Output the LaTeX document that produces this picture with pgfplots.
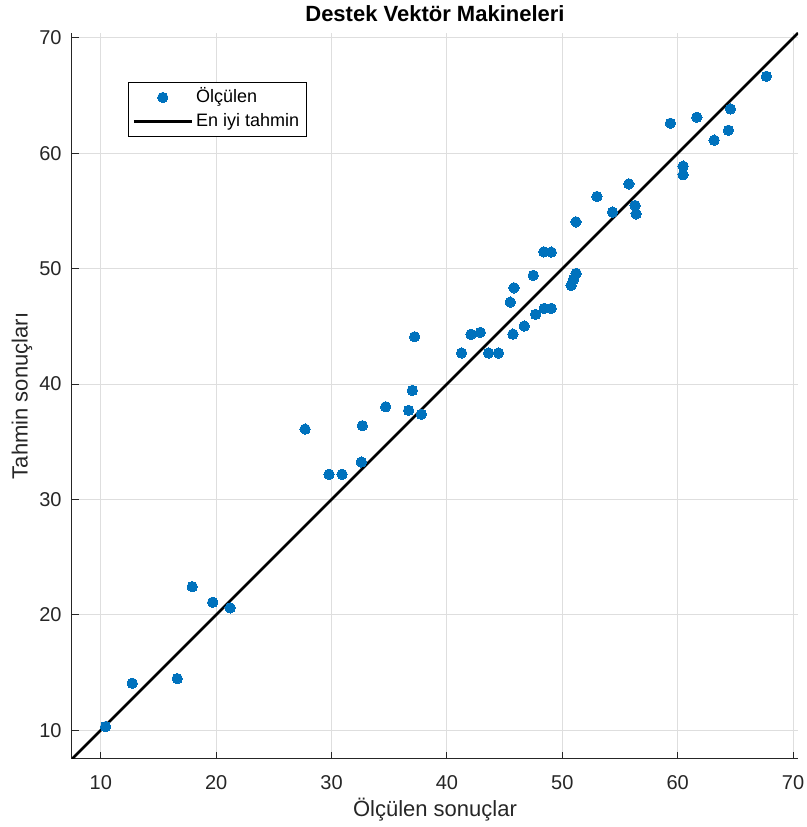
\documentclass[border=0pt]{standalone}
\usepackage{fontspec}
\setmainfont{Liberation Sans}
\usepackage{pgfplots}
\pgfplotsset{compat=1.18}
\definecolor{mblue}{HTML}{0072BD}
\definecolor{axgray}{rgb}{0.15,0.15,0.15}
\definecolor{gridgray}{rgb}{0.87,0.87,0.87}
\begin{document}
\begin{tikzpicture}
\begin{axis}[
  scale only axis, width=363pt, height=363pt,
  xmin=7.5, xmax=70.43, ymin=7.5, ymax=70.43,
  xtick={10,20,...,70}, ytick={10,20,...,70},
  axis x line=bottom, axis y line=left,
  every non boxed x axis/.append style={x axis line style=-},
  every non boxed y axis/.append style={y axis line style=-},
  every outer x axis line/.append style={-},
  every outer y axis line/.append style={-},
  every inner x axis line/.append style={-},
  every inner y axis line/.append style={-},
  axis line style={-, draw=axgray, line width=0.5pt},
  x axis line style={-}, y axis line style={-},
  tick align=inside, major tick length=3.6pt,
  tick style={draw=axgray, line width=0.5pt},
  grid=major, grid style={draw=gridgray, line width=0.5pt},
  /pgf/number format/assume math mode=true,
  ticklabel style={font=\fontsize{10}{12}\selectfont, text=axgray},
  xticklabel style={yshift=-4.5pt},
  yticklabel style={xshift=-1.7pt},
  title={Destek Vektör Makineleri},
  title style={at={(axis description cs:0.5,1.0097)}, anchor=center, font=\bfseries\fontsize{11}{13}\selectfont, text=black},
  xlabel={Ölçülen sonuçlar},
  ylabel={Tahmin sonuçları},
  xlabel style={at={(axis description cs:0.5,-0.0702)}, anchor=center, font=\fontsize{11}{13}\selectfont, text=axgray},
  ylabel style={at={(axis description cs:-0.0689,0.5)}, anchor=center, font=\fontsize{11}{13}\selectfont, text=axgray},
  legend style={at={(axis description cs:0.0771,0.9325)}, anchor=north west, draw=black, line width=0.5pt, fill=white,
    font=\fontsize{9}{10}\selectfont, inner xsep=2pt, inner ysep=1.5pt,
    nodes={text height=7pt, text depth=2pt, inner sep=1.5pt, anchor=west}, row sep=0pt},
  legend cell align=left,
  legend image code/.code={\draw[mark repeat=2,mark phase=2,#1] plot coordinates {(0pt,0pt) (14.5pt,0pt) (29pt,0pt)};},
]
\addplot[only marks, color=mblue, mark=*, mark size=2.6pt, mark options={draw=mblue, fill=mblue, line width=0pt}] table {
x y
10.41 10.31
12.72 14.07
16.62 14.47
17.92 22.44
19.70 21.09
21.21 20.60
27.70 36.10
29.78 32.18
30.91 32.18
32.58 33.24
32.67 36.39
34.69 38.03
36.68 37.72
37.78 37.38
37.20 44.10
37.00 39.45
41.27 42.69
42.08 44.31
42.89 44.48
43.61 42.69
44.47 42.69
45.72 44.33
45.49 47.10
45.81 48.34
46.70 45.03
47.68 46.04
47.48 49.42
48.43 46.56
49.04 46.56
48.40 51.46
49.04 51.44
50.77 48.55
50.97 49.07
51.20 49.59
51.18 54.06
53.00 56.26
54.35 54.90
55.77 57.35
56.31 55.48
56.40 54.75
59.37 62.61
60.47 58.89
60.47 58.14
61.66 63.13
63.16 61.14
64.40 62.00
64.57 63.85
67.69 66.68
};
\addlegendentry{Ölçülen}
\addplot[black, line width=1.3pt] coordinates {(7.5,7.5) (70.43,70.43)};
\addlegendentry{En iyi tahmin}
\end{axis}
\pgfresetboundingbox
\path ([xshift=-36pt,yshift=-34pt]current axis.south west) rectangle ([xshift=4pt,yshift=16.5pt]current axis.north east);
\end{tikzpicture}
\end{document}
